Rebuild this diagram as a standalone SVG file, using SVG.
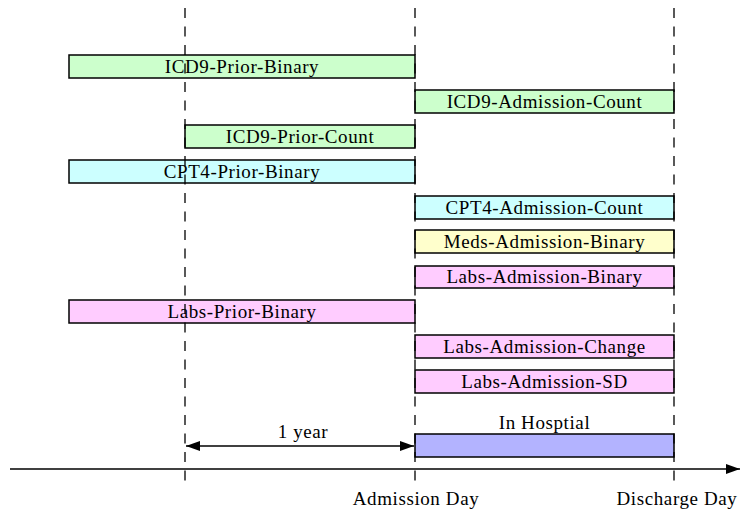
<svg xmlns="http://www.w3.org/2000/svg" width="740" height="513" viewBox="0 0 740 513">
<defs>
<style>
.bar{stroke:#000;stroke-width:1.5}
.g{fill:#ccffcc}.c{fill:#ccffff}.y{fill:#ffffcc}.p{fill:#ffccff}.b{fill:#b3b3ff}
text{font-family:"Liberation Serif","Times New Roman",serif;font-size:19px;letter-spacing:0.6px;fill:#000;text-anchor:middle}
.dash{stroke:#000;stroke-width:1.3;stroke-dasharray:10 8.5;fill:none}
.line{stroke:#000;stroke-width:1.5;fill:none}
</style>
<marker id="ah" viewBox="0 0 14 10" refX="14" refY="5" markerWidth="14" markerHeight="10" markerUnits="userSpaceOnUse" orient="auto-start-reverse">
<path d="M0,0 L14,5 L0,10 Z" fill="#000"/>
</marker>
</defs>
<g id="bars">
<g id="icd9-prior-binary"><rect class="bar g" x="69" y="55" width="346" height="23"/><text x="242" y="72.5">ICD9-Prior-Binary</text></g>
<g id="icd9-admission-count"><rect class="bar g" x="415" y="90" width="259" height="23"/><text x="544.5" y="107.5">ICD9-Admission-Count</text></g>
<g id="icd9-prior-count"><rect class="bar g" x="185" y="125" width="230" height="23"/><text x="300" y="142.5">ICD9-Prior-Count</text></g>
<g id="cpt4-prior-binary"><rect class="bar c" x="69" y="160" width="346" height="23"/><text x="242" y="177.5">CPT4-Prior-Binary</text></g>
<g id="cpt4-admission-count"><rect class="bar c" x="415" y="196" width="259" height="23"/><text x="544.5" y="213.5">CPT4-Admission-Count</text></g>
<g id="meds-admission-binary"><rect class="bar y" x="415" y="230" width="259" height="23"/><text x="544.5" y="247.5">Meds-Admission-Binary</text></g>
<g id="labs-admission-binary"><rect class="bar p" x="415" y="266" width="259" height="22"/><text x="544.5" y="283">Labs-Admission-Binary</text></g>
<g id="labs-prior-binary"><rect class="bar p" x="69" y="300" width="346" height="23"/><text x="242" y="317.5">Labs-Prior-Binary</text></g>
<g id="labs-admission-change"><rect class="bar p" x="415" y="335" width="259" height="23"/><text x="544.5" y="352.5">Labs-Admission-Change</text></g>
<g id="labs-admission-sd"><rect class="bar p" x="415" y="370" width="259" height="23"/><text x="544.5" y="387.5">Labs-Admission-SD</text></g>
<g id="in-hospital"><rect class="bar b" x="415" y="434" width="259" height="23"/><text x="544.5" y="429">In Hosptial</text></g>
</g>
<g id="connectors">
<line class="dash" x1="185" y1="8" x2="185" y2="482"/>
<line class="dash" x1="415" y1="8" x2="415" y2="482"/>
<line class="dash" x1="674" y1="8" x2="674" y2="482"/>
<line class="line" x1="10" y1="469" x2="740" y2="469" marker-end="url(#ah)"/>
<line class="line" x1="186" y1="446" x2="414" y2="446" marker-start="url(#ah)" marker-end="url(#ah)"/>
</g>
<g id="labels">
<text x="303" y="438">1 year</text>
<text x="416" y="505">Admission Day</text>
<text x="677" y="505">Discharge Day</text>
</g>
</svg>
